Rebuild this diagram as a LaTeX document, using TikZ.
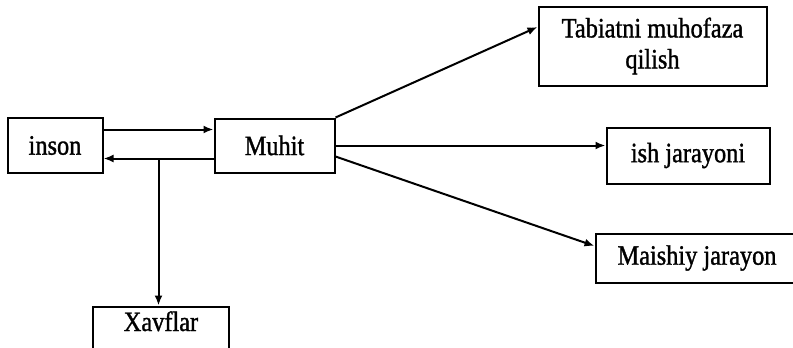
\documentclass[tikz,border=0pt]{standalone}
\usepackage{fontspec}
\setmainfont{Liberation Serif}[FakeStretch=0.87, FakeBold=1.2]
\usepackage{tikz}
\usetikzlibrary{positioning,arrows.meta,calc}
\tikzset{
     box/.style={rectangle, draw, line width=2pt, text centered, inner sep=0pt},
     arrow/.style={line width=2pt, -{Latex[length=10pt,width=8pt]}}
     }

\begin{document}
\begin{tikzpicture}[x=1pt,y=-1pt,font=\fontsize{28pt}{31pt}\selectfont]
    \useasboundingbox (0,0) rectangle (793,348);

    \node [box, minimum width=95pt, minimum height=55pt] (inson) at (55,145.5) {inson};
    \node [box, minimum width=120pt, minimum height=54pt, right=110pt of inson] (muhit) {Muhit};
    \node [box, minimum width=228pt, minimum height=79pt, align=center,
           above right=31pt and 202pt of muhit] (tabiat) {Tabiatni muhofaza\\qilish};
    \node [box, minimum width=163pt, minimum height=56pt, right=270pt of muhit, yshift=-10pt] (ish) {ish jarayoni};
    \node [box, minimum width=203pt, minimum height=49pt, below right=59pt and 259pt of muhit] (maishiy) {Maishiy jarayon};

    \draw [arrow] ([yshift=16pt]inson.east) -- ([yshift=16pt]muhit.west);
    \draw [arrow] ([yshift=-13pt]muhit.west) -- ([yshift=-13pt]inson.east);
    \coordinate (split) at ($([yshift=-13pt]inson.east)!0.5!([yshift=-13pt]muhit.west)$); % branch point on the lower arrow
    \node [box, minimum width=136pt, minimum height=56pt, text height=19pt, text depth=26pt,
           below=147pt of split, xshift=2.5pt] (xavflar) {Xavflar};
    \draw [arrow] (split) -- (split |- xavflar.north);

    \draw [arrow] (muhit.north east) -- ([yshift=19pt]tabiat.west);
    \draw [arrow] (muhit.east) -- (muhit.east -| ish.west);
    \draw [arrow] ([yshift=-11pt]muhit.east) -- ([yshift=12pt]maishiy.west);
\end{tikzpicture}
\end{document}
